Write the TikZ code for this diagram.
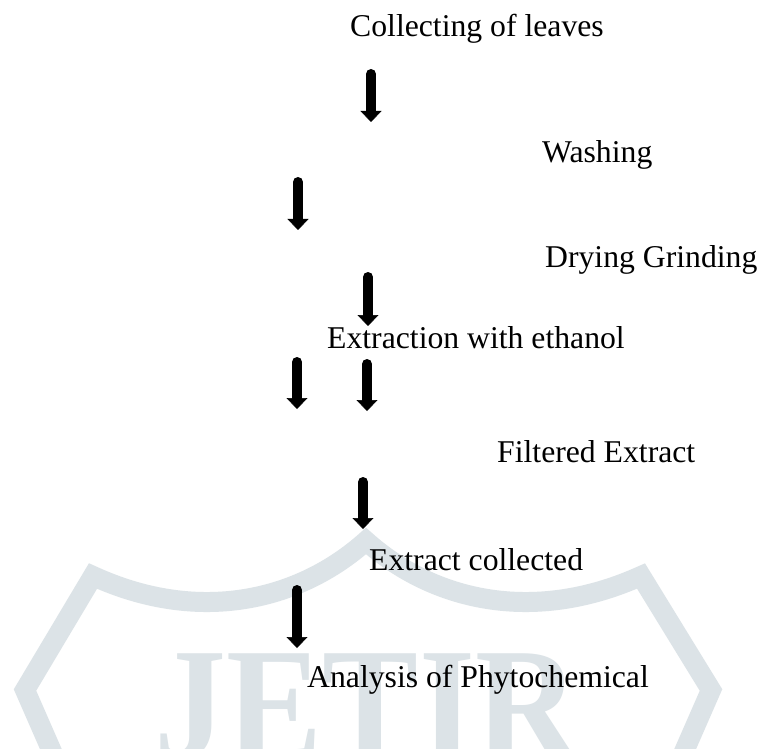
\documentclass[tikz,border=0pt]{standalone}
\usepackage{fontspec}
\setmainfont{Liberation Serif}
\usetikzlibrary{arrows.meta}
\definecolor{wmgray}{RGB}{220,227,231}
\begin{document}
\begin{tikzpicture}[x=1pt,y=-1pt,
	lbl/.style={anchor=base west,inner sep=0pt,font=\fontsize{31.7}{38}\selectfont},
	flowarrow/.style={line width=10pt,line cap=round,-{Triangle[width=21pt,length=11pt,line width=0.5pt]}}]
					\useasboundingbox (0,0) rectangle (761,749);
					\fill[white] (0,0) rectangle (761,749);
					\begin{scope}
					\clip (0,0) rectangle (761,749);
					\draw[wmgray,line width=20pt,line join=miter] (60,770)--(25,690)--(93,576)
						..controls(200,625)and(300,600)..(366,541)
						..controls(432,600)and(532,625)..(641,576)--(711,690)--(676,770);
					\node[wmgray,anchor=base,inner sep=0pt,xscale=0.9,font=\fontsize{160}{160}\bfseries\selectfont] (wmark) at (367,758) {JETIR};
					\end{scope}
					
					\node[lbl] (collect) at (350,37) {Collecting of leaves};
					\node[lbl] (wash) at (542,163) {Washing};
					\node[lbl] (dry) at (545,267) {Drying Grinding};
					\node[lbl] (extract) at (327,348) {Extraction with ethanol};
					\node[lbl] (filter) at (497,462) {Filtered Extract};
					\node[lbl] (collected) at (369,570) {Extract collected};
					\node[lbl] (analysis) at (307,687) {Analysis of Phytochemical};
					
					\coordinate (a1top) at (371,74);  \coordinate (a1tip) at (371,122);
					\coordinate (a2top) at (298,182); \coordinate (a2tip) at (298,230);
					\coordinate (a3top) at (368,277); \coordinate (a3tip) at (368,326);
					\coordinate (a4top) at (297,362); \coordinate (a4tip) at (297,409);
					\coordinate (a5top) at (367,364); \coordinate (a5tip) at (367,411);
					\coordinate (a6top) at (363,482); \coordinate (a6tip) at (363,529);
					\coordinate (a7top) at (297,590); \coordinate (a7tip) at (297,648);
					
					\draw[flowarrow] (a1top)--(a1tip);
					\draw[flowarrow] (a2top)--(a2tip);
					\draw[flowarrow] (a3top)--(a3tip);
					\draw[flowarrow] (a4top)--(a4tip);
					\draw[flowarrow] (a5top)--(a5tip);
					\draw[flowarrow] (a6top)--(a6tip);
					\draw[flowarrow] (a7top)--(a7tip);
				\end{tikzpicture}
\end{document}
